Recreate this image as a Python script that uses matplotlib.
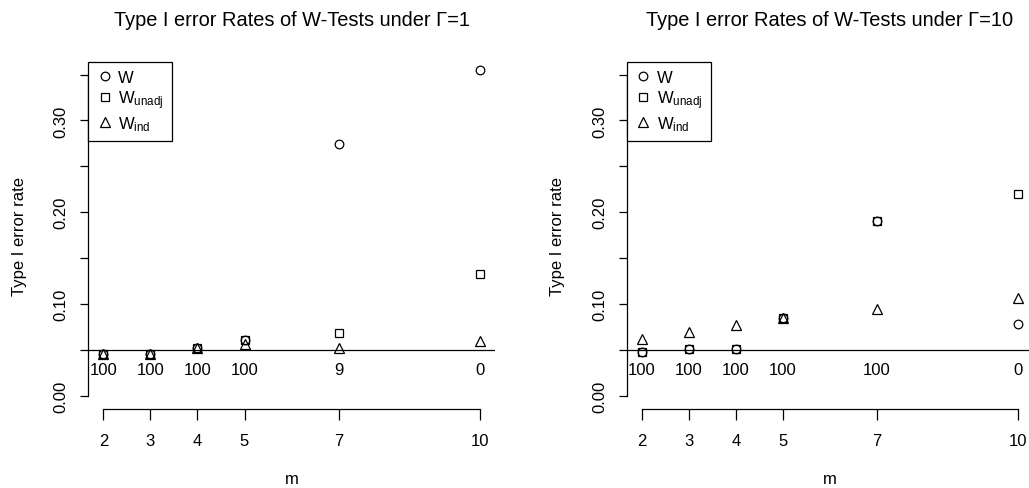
import matplotlib
matplotlib.use("Agg")
import matplotlib.pyplot as plt
from matplotlib.lines import Line2D

plt.rcParams["font.family"] = ["Liberation Sans", "DejaVu Sans"]
plt.rcParams["mathtext.fontset"] = "custom"
plt.rcParams["mathtext.rm"] = "Liberation Sans"
plt.rcParams["mathtext.it"] = "Liberation Sans"

m = [2, 3, 4, 5, 7, 10]

# Gamma = 1
w_g1 = [0.046, 0.046, 0.052, 0.061, 0.274, 0.355]
wunadj_g1 = [0.046, 0.046, 0.052, 0.061, 0.068, 0.133]
wind_g1 = [0.046, 0.046, 0.052, 0.056, 0.052, 0.060]
counts_g1 = ["100", "100", "100", "100", "9", "0"]

# Gamma = 10
w_g10 = [0.048, 0.0505, 0.0505, 0.085, 0.190, 0.078]
wunadj_g10 = [0.048, 0.0505, 0.0505, 0.085, 0.190, 0.220]
wind_g10 = [0.062, 0.069, 0.077, 0.085, 0.095, 0.1065]
counts_g10 = ["100", "100", "100", "100", "100", "0"]

titles = ["Type I error Rates of W-Tests under \u0393=1",
          "Type I error Rates of W-Tests under \u0393=10"]
alpha = 0.05

W, H = 1029, 489
fig = plt.figure(figsize=(W / 100, H / 100), dpi=100)

panels = [
    (88.3, w_g1, wunadj_g1, wind_g1, counts_g1, titles[0]),
    (626.7, w_g10, wunadj_g10, wind_g10, counts_g10, titles[1]),
]

top_px, bot_px, wid_px = 62.7, 409.6, 406.5

for left_px, w, wu, wi, counts, title in panels:
    ax = fig.add_axes([left_px / W, (H - bot_px) / H, wid_px / W, (bot_px - top_px) / H])
    ax.set_xlim(1.68, 10.32)
    ax.set_ylim(-0.014, 0.364)

    mk = dict(linestyle="none", mfc="none", mec="black", mew=0.9)
    ax.plot(m, w, marker="o", ms=6.2, **mk)
    ax.plot(m, wu, marker="s", ms=5.6, **mk)
    ax.plot(m, wi, marker="^", ms=7, **mk)

    ax.axhline(alpha, color="black", lw=0.9)
    for xi, c in zip(m, counts):
        ax.text(xi, 0.029, c, ha="center", va="center", fontsize=12)

    for s in ["top", "right"]:
        ax.spines[s].set_visible(False)
    ax.spines["left"].set_bounds(0, 0.35)
    ax.spines["bottom"].set_bounds(2, 10)
    ax.spines["left"].set_linewidth(0.9)
    ax.spines["bottom"].set_linewidth(0.9)

    ax.set_xticks(m)
    ax.set_xticklabels([str(v) for v in m])
    yt = [0, 0.05, 0.10, 0.15, 0.20, 0.25, 0.30, 0.35]
    ax.set_yticks(yt)
    ax.set_yticklabels(["0.00", "", "0.10", "", "0.20", "", "0.30", ""], rotation=90, va="center")
    ax.tick_params(axis="x", length=8, width=0.9, pad=9.5, labelsize=12)
    ax.tick_params(axis="y", length=6, width=0.9, pad=8, labelsize=12)

    ax.set_ylabel("Type I error rate", fontsize=12)
    ax.yaxis.set_label_coords(-69 / wid_px, 0.5)
    ax.set_xlabel("m", fontsize=12)
    ax.xaxis.set_label_coords(0.5, (bot_px - 480) / (bot_px - top_px))
    ax.xaxis.label.set_va("center")
    ax.yaxis.label.set_va("center")

    fig.text((left_px + wid_px / 2) / W, 1 - 21 / H, title, ha="center", va="center", fontsize=14.4)

    handles = [
        Line2D([], [], marker="o", ms=6.2, **mk),
        Line2D([], [], marker="s", ms=5.6, **mk),
        Line2D([], [], marker="^", ms=7, **mk),
    ]
    leg = ax.legend(handles, ["W", r"W$_{\mathrm{unadj}}$", r"W$_{\mathrm{ind}}$"],
                    loc="upper left", borderaxespad=0, fancybox=False, framealpha=1,
                    edgecolor="black", fontsize=12, handlelength=1.0, handletextpad=0.3,
                    labelspacing=0.2, borderpad=0.5)
    leg.get_frame().set_linewidth(0.9)

fig.savefig("out.png", dpi=100)
